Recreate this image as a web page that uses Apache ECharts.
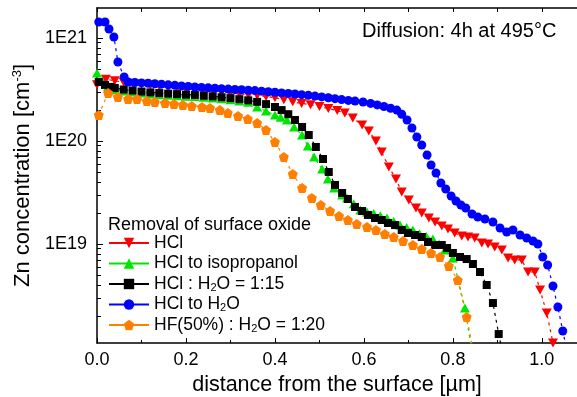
<!DOCTYPE html>
<html><head><meta charset="utf-8">
<script src="https://cdn.jsdelivr.net/npm/echarts@6/dist/echarts.min.js"></script>
<style>html,body{margin:0;padding:0;background:#fff}#c{width:577px;height:397px}</style>
</head><body><div id="c"></div>
<script>
// Values: x = depth (µm), y = log10 of Zn concentration (cm^-3)
const hclX = [0.000,0.020,0.040,0.060,0.080,0.100,0.120,0.140,0.160,0.180,0.200,0.220,0.240,0.260,0.280,0.300,0.320,0.340,0.360,0.380,0.400,0.420,0.440,0.460,0.480,0.500,0.520,0.540,0.557,0.575,0.596,0.611,0.627,0.640,0.656,0.672,0.685,0.701,0.717,0.730,0.746,0.760,0.775,0.789,0.804,0.820,0.834,0.849,0.865,0.879,0.894,0.910,0.924,0.939,0.955,0.969,0.984,0.996,1.011,1.025];
const hclY = [20.545,20.600,20.585,20.570,20.560,20.550,20.540,20.530,20.520,20.512,20.503,20.495,20.487,20.480,20.472,20.465,20.458,20.450,20.442,20.432,20.420,20.400,20.380,20.365,20.352,20.335,20.315,20.295,20.272,20.223,20.155,20.097,20.000,19.893,19.748,19.631,19.505,19.427,19.350,19.301,19.252,19.214,19.175,19.146,19.107,19.078,19.068,19.058,19.010,19.000,18.971,18.942,18.864,18.845,18.845,18.728,18.728,18.553,18.330,18.040];

const isoX = [0.000,0.012,0.025,0.040,0.060,0.080,0.100,0.120,0.140,0.160,0.180,0.200,0.220,0.240,0.260,0.280,0.300,0.320,0.340,0.360,0.380,0.400,0.413,0.427,0.443,0.461,0.474,0.488,0.506,0.519,0.533,0.551,0.562,0.577,0.592,0.607,0.622,0.637,0.652,0.667,0.681,0.696,0.710,0.725,0.740,0.755,0.769,0.782,0.800,0.827,0.842];
const isoY = [20.660,20.580,20.530,20.500,20.485,20.475,20.465,20.457,20.450,20.445,20.440,20.435,20.432,20.425,20.418,20.410,20.400,20.388,20.375,20.330,20.290,20.252,20.230,20.204,20.136,20.058,19.951,19.845,19.728,19.631,19.544,19.476,19.447,19.390,19.330,19.310,19.295,19.275,19.252,19.220,19.184,19.160,19.136,19.100,19.075,19.049,19.000,18.942,18.864,18.379,17.980];

const h2o15X = [0.004,0.018,0.030,0.040,0.060,0.080,0.100,0.120,0.140,0.160,0.180,0.200,0.220,0.240,0.260,0.280,0.300,0.320,0.340,0.360,0.380,0.400,0.415,0.430,0.445,0.461,0.476,0.492,0.508,0.521,0.535,0.551,0.564,0.580,0.596,0.609,0.625,0.640,0.654,0.670,0.685,0.699,0.715,0.730,0.744,0.760,0.775,0.787,0.800,0.816,0.831,0.845,0.861,0.876,0.890,0.903,0.910];
const h2o15Y = [20.573,20.544,20.525,20.515,20.500,20.490,20.480,20.472,20.465,20.460,20.455,20.450,20.447,20.440,20.433,20.425,20.416,20.406,20.395,20.380,20.358,20.330,20.300,20.260,20.204,20.136,20.058,19.942,19.825,19.699,19.573,19.495,19.437,19.359,19.320,19.282,19.252,19.233,19.204,19.184,19.136,19.107,19.087,19.068,19.019,18.990,18.990,18.961,18.913,18.874,18.854,18.806,18.728,18.602,18.427,18.126,17.980];

const h2oX = [0.004,0.018,0.027,0.038,0.047,0.061,0.070,0.085,0.100,0.115,0.130,0.145,0.160,0.175,0.190,0.205,0.220,0.235,0.250,0.265,0.280,0.295,0.310,0.325,0.340,0.355,0.370,0.385,0.400,0.415,0.430,0.445,0.460,0.475,0.490,0.505,0.520,0.535,0.550,0.565,0.580,0.598,0.615,0.630,0.645,0.660,0.674,0.685,0.697,0.708,0.719,0.730,0.742,0.751,0.762,0.773,0.784,0.796,0.807,0.818,0.829,0.843,0.856,0.872,0.890,0.906,0.921,0.935,0.951,0.966,0.980,0.991,1.002,1.013,1.025,1.036,1.047,1.056];
const h2oY = [21.155,21.155,21.087,21.010,20.767,20.621,20.573,20.568,20.564,20.560,20.556,20.552,20.545,20.540,20.535,20.530,20.524,20.520,20.516,20.512,20.508,20.504,20.500,20.497,20.493,20.489,20.484,20.478,20.473,20.467,20.462,20.456,20.450,20.443,20.436,20.428,20.420,20.411,20.402,20.394,20.387,20.379,20.365,20.350,20.335,20.318,20.300,20.260,20.204,20.126,20.039,19.961,19.864,19.767,19.689,19.592,19.534,19.466,19.417,19.379,19.350,19.291,19.262,19.243,19.214,19.155,19.117,19.136,19.087,19.058,19.029,19.000,18.874,18.796,18.592,18.388,18.155,17.980];

const hfX = [0.004,0.025,0.047,0.070,0.090,0.112,0.130,0.153,0.173,0.193,0.213,0.236,0.254,0.276,0.294,0.317,0.339,0.360,0.380,0.400,0.420,0.440,0.461,0.483,0.503,0.524,0.544,0.564,0.584,0.607,0.627,0.647,0.667,0.688,0.710,0.730,0.751,0.771,0.791,0.811,0.831,0.845];
const hfY = [20.252,20.466,20.427,20.408,20.408,20.388,20.379,20.369,20.360,20.350,20.340,20.330,20.320,20.301,20.272,20.243,20.214,20.175,20.107,19.990,19.845,19.680,19.544,19.447,19.379,19.320,19.272,19.233,19.194,19.165,19.136,19.097,19.068,19.029,18.990,18.951,18.913,18.874,18.786,18.650,18.291,17.980];

const seriesNames = ['HCl', 'HCl to isopropanol', 'HCl : H2O = 1:15', 'HCl to H2O', 'HF(50%) : H2O = 1:20'];
const legendLabels = ['HCl', 'HCl to isopropanol', 'HCl : H{s|2}O = 1:15', 'HCl to H{s|2}O', 'HF(50%) : H{s|2}O = 1:20'];
const xTickLabels = [0.0, 0.2, 0.4, 0.6, 0.8, 1.0];
const xMinorTicks = [0.1, 0.3, 0.5, 0.7, 0.9];
const yTickLabels = [19, 20, 21];   // exponents: 1E19, 1E20, 1E21
const yMin = 18.039, yMax = 21.291, xMax = 1.079;

const FONT = 'Liberation Sans, Arial, sans-serif';
const yMinorTicks = [];
for (let n = 18; n <= 21; n++) for (let k = 2; k <= 9; k++) {
  const v = n + Math.log10(k);
  if (v > yMin && v < yMax) yMinorTicks.push(v);
}
const pent = 'path://M0,-100L95.1,-30.9L58.8,80.9L-58.8,80.9L-95.1,-30.9Z';
const zip = (xs, ys) => xs.map((x, i) => [x, ys[i]]);

const specs = [
  {x: hclX, y: hclY, color: '#FF0000', symbol: 'triangle', size: [10, 9], rot: 180},
  {x: isoX, y: isoY, color: '#00E600', symbol: 'triangle', size: [10, 9], rot: 0},
  {x: h2o15X, y: h2o15Y, color: '#000000', symbol: 'rect', size: 8, rot: 0},
  {x: h2oX, y: h2oY, color: '#0000FF', symbol: 'circle', size: 9, rot: 0},
  {x: hfX, y: hfY, color: '#FF8000', symbol: pent, size: 10, rot: 0}
];

const axisLine = {show: true, lineStyle: {color: '#000', width: 1.5}};
const chart = echarts.init(document.getElementById('c'), null, {renderer: 'canvas'});
chart.setOption({
  animation: false,
  backgroundColor: '#fff',
  grid: {left: 97, right: 0, top: 8, bottom: 54, outerBoundsMode: 'none'},
  title: [
    {text: 'Diffusion: 4h at 495°C', left: 362, top: 21, padding: 0,
     textStyle: {fontFamily: FONT, fontSize: 20, fontWeight: 'normal', color: '#000'}},
    {text: 'Removal of surface oxide', left: 108, top: 216, padding: 0,
     textStyle: {fontFamily: FONT, fontSize: 18, fontWeight: 'normal', color: '#000'}}
  ],
  legend: {
    orient: 'vertical', left: 108, top: 234, padding: 0,
    itemWidth: 40, itemHeight: 13, itemGap: 2.5,
    data: seriesNames,
    formatter: name => legendLabels[seriesNames.indexOf(name)],
    lineStyle: {width: 2, type: 'solid', opacity: 1},
    textStyle: {fontFamily: FONT, fontSize: 17.5, color: '#000', lineHeight: 18,
      rich: {s: {fontFamily: FONT, fontSize: 11, lineHeight: 8, verticalAlign: 'bottom', color: '#000'}}}
  },
  xAxis: [
    {type: 'value', position: 'bottom', min: 0, max: xMax,
     axisLine: axisLine, splitLine: {show: false},
     axisTick: {inside: true, length: 5, lineStyle: {color: '#000', width: 1}, customValues: xTickLabels},
     axisLabel: {customValues: xTickLabels, formatter: v => v.toFixed(1), margin: 8,
       fontFamily: FONT, fontSize: 18, color: '#000'},
     name: 'distance from the surface [µm]', nameLocation: 'middle', nameGap: 28,
     nameTextStyle: {fontFamily: FONT, fontSize: 21.5, color: '#000'}},
    {type: 'value', position: 'bottom', min: 0, max: xMax, axisLine: {show: false}, splitLine: {show: false},
     axisTick: {inside: true, length: 3, lineStyle: {color: '#000', width: 1}, customValues: xMinorTicks},
     axisLabel: {show: false}},
    {type: 'value', position: 'top', min: 0, max: xMax, axisLine: axisLine, splitLine: {show: false},
     axisTick: {inside: true, length: 4, lineStyle: {color: '#000', width: 1}, customValues: xTickLabels.concat(xMinorTicks)},
     axisLabel: {show: false}}
  ],
  yAxis: [
    {type: 'value', position: 'left', min: yMin, max: yMax,
     axisLine: axisLine, splitLine: {show: false},
     axisTick: {inside: true, length: 6, lineStyle: {color: '#000', width: 1}, customValues: yTickLabels},
     axisLabel: {customValues: yTickLabels, formatter: v => '1E' + Math.round(v), margin: 10,
       fontFamily: FONT, fontSize: 18, color: '#000'},
     name: '{a|Zn concentration [cm}{p|-3}{a|]}', nameLocation: 'middle', nameGap: 51, nameRotate: 90,
     nameTextStyle: {fontFamily: FONT, fontSize: 22, color: '#000',
       rich: {a: {fontFamily: FONT, fontSize: 22, color: '#000', lineHeight: 24},
              p: {fontFamily: FONT, fontSize: 13, color: '#000', lineHeight: 13, verticalAlign: 'top'}}}},
    {type: 'value', position: 'left', min: yMin, max: yMax, axisLine: {show: false}, splitLine: {show: false},
     axisTick: {inside: true, length: 4, lineStyle: {color: '#000', width: 1}, customValues: yMinorTicks},
     axisLabel: {show: false}}
  ],
  series: specs.map((s, i) => ({
    name: seriesNames[i], type: 'line', xAxisIndex: 0, yAxisIndex: 0,
    data: zip(s.x, s.y),
    symbol: s.symbol, symbolSize: s.size, symbolRotate: s.rot, showAllSymbol: true,
    itemStyle: {color: s.color, borderWidth: 0},
    lineStyle: {color: s.color, width: 1.2, type: [3, 4]},
    emphasis: {disabled: true}, clip: true
  }))
});
</script></body></html>
